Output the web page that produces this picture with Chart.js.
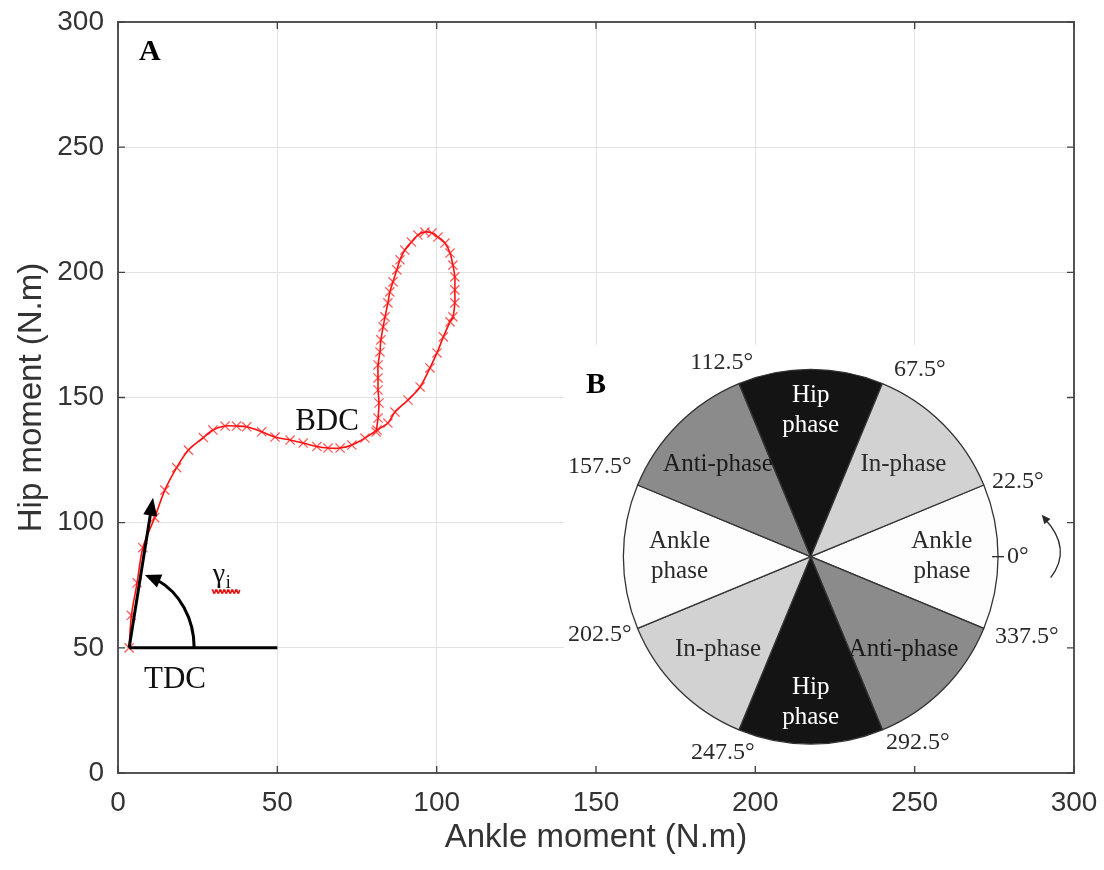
<!DOCTYPE html>
<html><head><meta charset="utf-8">
<script src="https://cdn.jsdelivr.net/npm/chart.js@4.4.0/dist/chart.umd.min.js"></script>
<style>
html,body{margin:0;padding:0;background:#fff;}
#wrap{position:relative;width:1104px;height:870px;overflow:hidden;}
#main{position:absolute;left:0;top:0;}
#pie{position:absolute;left:560px;top:340px;}
</style></head><body>
<div id="wrap"><canvas id="main" width="1104" height="870"></canvas><canvas id="pie" width="520" height="430"></canvas></div>
<script>
// ---- data ----
const ankleMoment = [3.5, 4.2, 6.0, 7.8, 11.5, 14.7, 18.4, 22.1, 26.8, 29.8, 33.6, 37.2, 40.4, 45.1, 49.3, 54.0, 58.1, 62.4, 65.9, 69.7, 73.4, 77.5, 81.3, 84.7, 86.9, 91.0, 94.8, 97.9, 100.1, 102.1, 104.2, 105.1, 105.7, 105.7, 105.7, 105.1, 104.2, 102.6, 100.4, 98.5, 96.3, 94.1, 92.1, 90.0, 88.5, 87.5, 86.3, 85.3, 84.7, 83.8, 83.2, 82.5, 82.2, 81.6, 81.6, 81.6, 81.9, 81.6, 81.0];
const hipMoment   = [50, 63, 76, 90, 102, 113, 122, 129, 134, 137, 138.6, 138.6, 138.3, 136.3, 134.2, 133, 131.8, 130.4, 129.8, 129.8, 131, 133.8, 137, 139.8, 144.2, 149, 154.2, 161.8, 167.8, 174.2, 180.2, 182.2, 187.8, 193, 198.2, 202.9, 207.7, 211.7, 214.1, 215.7, 216.1, 214.9, 212.1, 208.9, 205, 201, 196.2, 192.2, 187.8, 182.2, 178.2, 173, 168.2, 163, 157.8, 153, 147.8, 141.8, 136.2];
const xTickValues = [0, 50, 100, 150, 200, 250, 300];
const yTickValues = [0, 50, 100, 150, 200, 250, 300];
const tdcPoint = [3.5, 50];
const gammaArrowTip = [11, 110];
const baselineEnd = [50, 50];

const sectorNames = ['Ankle phase', 'Anti-phase', 'Hip phase', 'In-phase', 'Ankle phase', 'Anti-phase', 'Hip phase', 'In-phase'];
const sectorSpans = [45, 45, 45, 45, 45, 45, 45, 45];
const boundaryLabels = ['337.5°', '292.5°', '247.5°', '202.5°', '157.5°', '112.5°', '67.5°', '22.5°'];

// ---- styles ----
const sectorColors = ['#fdfdfd', '#8b8b8b', '#141414', '#d2d2d2', '#fdfdfd', '#8b8b8b', '#141414', '#d2d2d2'];
const sectorTextColors = ['#2a2a2a', '#1a1a1a', '#ffffff', '#2a2a2a', '#2a2a2a', '#1a1a1a', '#ffffff', '#2a2a2a'];
const boundaryLabelOffsets = [[216, 80], [107, 186], [-88, 196], [-211, 78], [-211, -90], [-89, -194], [109, -187], [207, -75]];
const SANS = '"Liberation Sans", Arial, sans-serif';
const SERIF = '"Liberation Serif", "Times New Roman", serif';

const framePlugin = {
  id: 'frame',
  beforeDatasetsDraw(chart, args, o) {
    const {ctx, chartArea: a, scales: {x, y}} = chart;
    ctx.save();
    const ix = x.getPixelForValue(o.insetXMin), iy = y.getPixelForValue(o.insetYMax);
    ctx.fillStyle = '#ffffff';
    ctx.fillRect(ix, iy, a.right - ix, a.bottom - iy);
    ctx.strokeStyle = '#555';
    ctx.lineWidth = 2;
    ctx.strokeRect(a.left, a.top, a.right - a.left, a.bottom - a.top);
    ctx.strokeStyle = '#444';
    ctx.lineWidth = 1.4;
    ctx.beginPath();
    x.ticks.forEach(t => {
      const p = x.getPixelForValue(t.value);
      ctx.moveTo(p, a.bottom); ctx.lineTo(p, a.bottom - 7);
      ctx.moveTo(p, a.top); ctx.lineTo(p, a.top + 7);
    });
    y.ticks.forEach(t => {
      const p = y.getPixelForValue(t.value);
      ctx.moveTo(a.left, p); ctx.lineTo(a.left + 7, p);
      ctx.moveTo(a.right, p); ctx.lineTo(a.right - 7, p);
    });
    ctx.stroke();
    ctx.restore();
  }
};

function arrowHead(ctx, tx, ty, ang, len, half) {
  ctx.beginPath();
  ctx.moveTo(tx, ty);
  ctx.lineTo(tx - len * Math.cos(ang) + half * Math.sin(ang), ty - len * Math.sin(ang) - half * Math.cos(ang));
  ctx.lineTo(tx - len * Math.cos(ang) - half * Math.sin(ang), ty - len * Math.sin(ang) + half * Math.cos(ang));
  ctx.closePath();
  ctx.fill();
}

const annotPlugin = {
  id: 'annot',
  afterDatasetsDraw(chart, args, o) {
    const {ctx, scales: {x, y}} = chart;
    const X = v => x.getPixelForValue(v), Y = v => y.getPixelForValue(v);
    ctx.save();
    ctx.strokeStyle = '#000'; ctx.fillStyle = '#000'; ctx.lineWidth = 3; ctx.lineCap = 'butt';
    const x0 = X(tdcPoint[0]), y0 = Y(tdcPoint[1]);
    ctx.beginPath(); ctx.moveTo(x0, y0); ctx.lineTo(X(baselineEnd[0]), Y(baselineEnd[1])); ctx.stroke();
    const tx = X(gammaArrowTip[0]), ty = Y(gammaArrowTip[1]);
    const ang = Math.atan2(ty - y0, tx - x0);
    ctx.beginPath(); ctx.moveTo(x0, y0); ctx.lineTo(tx - 14 * Math.cos(ang), ty - 14 * Math.sin(ang)); ctx.stroke();
    arrowHead(ctx, tx, ty, ang, 18, 7);
    const rx = X(tdcPoint[0] + o.arcRx) - x0, ry = y0 - Y(tdcPoint[1] + o.arcRy);
    const endA = o.arcEndDeg * Math.PI / 180;
    const stopA = endA - 0.2;
    ctx.beginPath();
    ctx.ellipse(x0, y0, rx, ry, 0, 0, -stopA, true);
    ctx.stroke();
    const hx = x0 + rx * Math.cos(endA), hy = y0 - ry * Math.sin(endA);
    const sx = x0 + rx * Math.cos(stopA), sy = y0 - ry * Math.sin(stopA);
    arrowHead(ctx, hx, hy, Math.atan2(hy - sy, hx - sx), 16, 7);
    ctx.textAlign = 'center'; ctx.textBaseline = 'middle';
    ctx.font = 'bold 30px ' + SERIF;
    ctx.fillText('A', X(o.labelA[0]), Y(o.labelA[1]));
    ctx.fillText('B', X(o.labelB[0]), Y(o.labelB[1]));
    ctx.font = '31px ' + SERIF;
    ctx.fillStyle = '#111';
    ctx.fillText('BDC', X(o.labelBDC[0]), Y(o.labelBDC[1]));
    ctx.fillText('TDC', X(o.labelTDC[0]), Y(o.labelTDC[1]));
    const gx = X(o.labelGamma[0]), gy = Y(o.labelGamma[1]);
    ctx.font = '28px ' + SERIF;
    ctx.textAlign = 'left';
    ctx.fillText('γ', gx - 12, gy - 2);
    ctx.font = '18px ' + SERIF;
    ctx.fillText('i', gx + 1, gy + 7);
    ctx.strokeStyle = '#e01010'; ctx.lineWidth = 1.6;
    ctx.beginPath();
    for (let k = 0; k <= 28; k++) {
      const px = gx - 13 + k, py = gy + 15 + (k % 4 < 2 ? -1.5 : 1.5);
      if (k === 0) ctx.moveTo(px, py); else ctx.lineTo(px, py);
    }
    ctx.stroke();
    ctx.restore();
  }
};

new Chart(document.getElementById('main'), {
  type: 'scatter',
  data: {
    datasets: [{
      data: ankleMoment.map((v, i) => ({x: v, y: hipMoment[i]})),
      showLine: true,
      borderColor: '#ff1010',
      borderWidth: 1.6,
      tension: 0.3,
      pointStyle: 'crossRot',
      pointRadius: 6.5,
      pointBorderWidth: 1.3,
      pointBorderColor: 'rgba(255,20,20,0.7)',
      pointBackgroundColor: 'rgba(0,0,0,0)'
    }]
  },
  options: {
    responsive: false,
    animation: false,
    events: [],
    layout: {padding: {left: 10, right: 30, top: 22, bottom: 0}},
    plugins: {
      legend: {display: false},
      tooltip: {enabled: false},
      frame: {insetXMin: 140, insetYMax: 171},
      annot: {arcRx: 20.4, arcRy: 30, arcEndDeg: 76,
        labelA: [10, 288], labelB: [150, 155], labelBDC: [65.6, 140.2], labelTDC: [17.9, 37.2], labelGamma: [33.5, 78.5]}
    },
    scales: {
      x: {
        type: 'linear', min: 0, max: 300,
        afterBuildTicks: s => { s.ticks = xTickValues.map(v => ({value: v})); },
        ticks: {font: {family: SANS, size: 28}, color: '#333', padding: 13, maxRotation: 0},
        grid: {color: '#e2e2e2', lineWidth: 1, drawTicks: false},
        border: {display: false},
        title: {display: true, text: 'Ankle moment (N.m)', font: {family: SANS, size: 33}, color: '#333', padding: {top: 0, bottom: 12}},
        afterFit: s => { s.height = 97; s.paddingLeft = 0; s.paddingRight = 0; }
      },
      y: {
        type: 'linear', min: 0, max: 300,
        afterBuildTicks: s => { s.ticks = yTickValues.map(v => ({value: v})); },
        ticks: {font: {family: SANS, size: 28}, color: '#333', padding: 14},
        grid: {color: '#e2e2e2', lineWidth: 1, drawTicks: false},
        border: {display: false},
        title: {display: true, text: 'Hip moment (N.m)', font: {family: SANS, size: 33}, color: '#333', padding: {top: 2, bottom: 0}},
        afterFit: s => { s.width = 108; s.paddingTop = 0; s.paddingBottom = 0; }
      }
    }
  },
  plugins: [framePlugin, annotPlugin]
});

const piePlugin = {
  id: 'pieText',
  afterDraw(chart) {
    const ctx = chart.ctx, meta = chart.getDatasetMeta(0);
    const a0 = meta.data[0];
    const cx = a0.x, cy = a0.y, R = a0.outerRadius;
    ctx.save();
    ctx.textAlign = 'center'; ctx.textBaseline = 'middle';
    meta.data.forEach((arc, i) => {
      const name = sectorNames[i];
      const mid = (arc.startAngle + arc.endAngle) / 2;
      const f = name.startsWith('Hip') ? 0.78 : 0.70;
      const px = cx + Math.cos(mid) * R * f, py = cy + Math.sin(mid) * R * f;
      ctx.fillStyle = sectorTextColors[i];
      ctx.font = '25px ' + SERIF;
      const lines = name.includes(' ') ? name.split(' ') : [name];
      lines.forEach((ln, k) => ctx.fillText(ln, px, py + (k - (lines.length - 1) / 2) * 30));
    });
    ctx.fillStyle = '#2a2a2a';
    ctx.font = '24px ' + SERIF;
    boundaryLabels.forEach((t, i) => {
      ctx.fillText(t, cx + boundaryLabelOffsets[i][0], cy + boundaryLabelOffsets[i][1]);
    });
    ctx.strokeStyle = '#2a2a2a'; ctx.lineWidth = 1.3;
    ctx.beginPath(); ctx.moveTo(cx + R - 6, cy); ctx.lineTo(cx + R + 6, cy); ctx.stroke();
    ctx.textAlign = 'left';
    ctx.fillText('0°', cx + R + 9, cy);
    ctx.beginPath();
    ctx.moveTo(cx + 234, cy - 38);
    ctx.quadraticCurveTo(cx + 262, cy - 8, cx + 240, cy + 21);
    ctx.stroke();
    ctx.fillStyle = '#2a2a2a';
    arrowHead(ctx, cx + 231, cy - 42, Math.atan2(-34, -28), 9, 4);
    ctx.restore();
  }
};

new Chart(document.getElementById('pie'), {
  type: 'pie',
  data: {
    labels: sectorNames,
    datasets: [{data: sectorSpans, backgroundColor: sectorColors, borderColor: '#333', borderWidth: 1.3, hoverOffset: 0}]
  },
  options: {
    responsive: false,
    animation: false,
    events: [],
    rotation: 67.5,
    layout: {padding: {left: 62.7, right: 81.3, top: 28.7, bottom: 25.3}},
    plugins: {legend: {display: false}, tooltip: {enabled: false}}
  },
  plugins: [piePlugin]
});
</script>
</body></html>
